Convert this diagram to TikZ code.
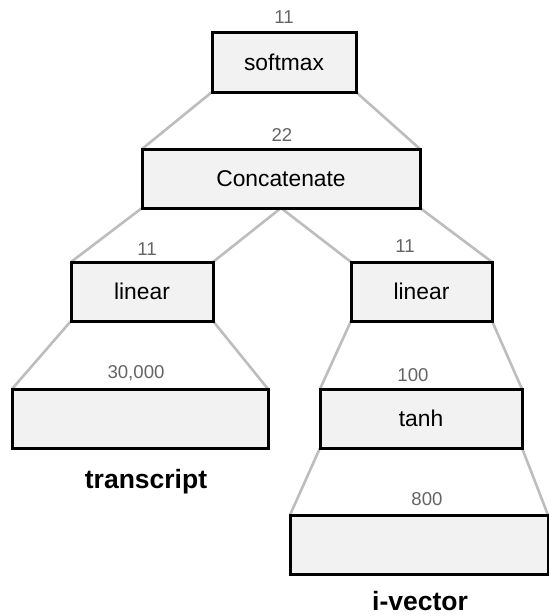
\documentclass[tikz,border=0pt]{standalone}
\usepackage{fontspec}
\setmainfont{Liberation Sans}
\definecolor{boxfill}{HTML}{F2F2F2}
\definecolor{linkgray}{HTML}{BDBDBD}
\definecolor{dimgray}{HTML}{646464}
\begin{document}
\begin{tikzpicture}[x=1pt,y=-1pt,
  layer/.style={draw=black,line width=3pt,fill=boxfill,rectangle,inner sep=0pt,outer sep=0pt,
    font=\fontsize{22.8}{27}\selectfont},
  link/.style={draw=linkgray,line width=2.6pt},
  dim/.style={anchor=base,inner sep=0pt,text=dimgray,font=\fontsize{18.6}{22}\selectfont},
  caption/.style={anchor=base,inner sep=0pt,font=\fontsize{26.5}{30}\selectfont\bfseries}]
\useasboundingbox (0,0) rectangle (549,616);

% layers
\node[layer,minimum width=144pt,minimum height=60pt] (soft) at (284,62) {softmax};
\node[layer,minimum width=278pt,minimum height=59pt] (conc) at (281,178.5) {Concatenate};
\node[layer,minimum width=142pt,minimum height=59pt] (linL) at (142,291.5) {linear};
\node[layer,minimum width=141pt,minimum height=59pt] (linR) at (421.5,291.5) {linear};
\node[layer,minimum width=256pt,minimum height=59pt] (trans) at (140,418.5) {};
\node[layer,minimum width=202pt,minimum height=59pt] (tanh) at (421,418.5) {tanh};
\node[layer,minimum width=258pt,minimum height=59pt] (ivec) at (419,544.5) {};

% connectors
\draw[link] (soft.south west) -- (conc.north west);
\draw[link] (soft.south east) -- (conc.north east);
\draw[link] (conc.south west) -- (linL.north west);
\draw[link] (conc.south) -- (linL.north east);
\draw[link] (conc.south) -- (linR.north west);
\draw[link] (conc.south east) -- (linR.north east);
\draw[link] (linL.south west) -- (trans.north west);
\draw[link] (linL.south east) -- (trans.north east);
\draw[link] (linR.south west) -- (tanh.north west);
\draw[link] (linR.south east) -- (tanh.north east);
\draw[link] (tanh.south west) -- (ivec.north west);
\draw[link] (tanh.south east) -- (ivec.north east);

% redraw layer borders over connector ends
\foreach \n in {soft,conc,linL,linR,trans,tanh,ivec}
  \draw[line width=3pt] (\n.south west) rectangle (\n.north east);

% dimensions
\node[dim] (d1) at (284,23) {11};
\node[dim] (d2) at (282,141) {22};
\node[dim] (d3) at (147,255) {11};
\node[dim] (d4) at (405,252) {11};
\node[dim] (d5) at (136,378) {30,000};
\node[dim] (d6) at (413,381) {100};
\node[dim] (d7) at (427,505) {800};

% input captions
\node[caption] (ct) at (146,488) {transcript};
\node[caption] (ci) at (420,610) {i-vector};
\end{tikzpicture}
\end{document}
